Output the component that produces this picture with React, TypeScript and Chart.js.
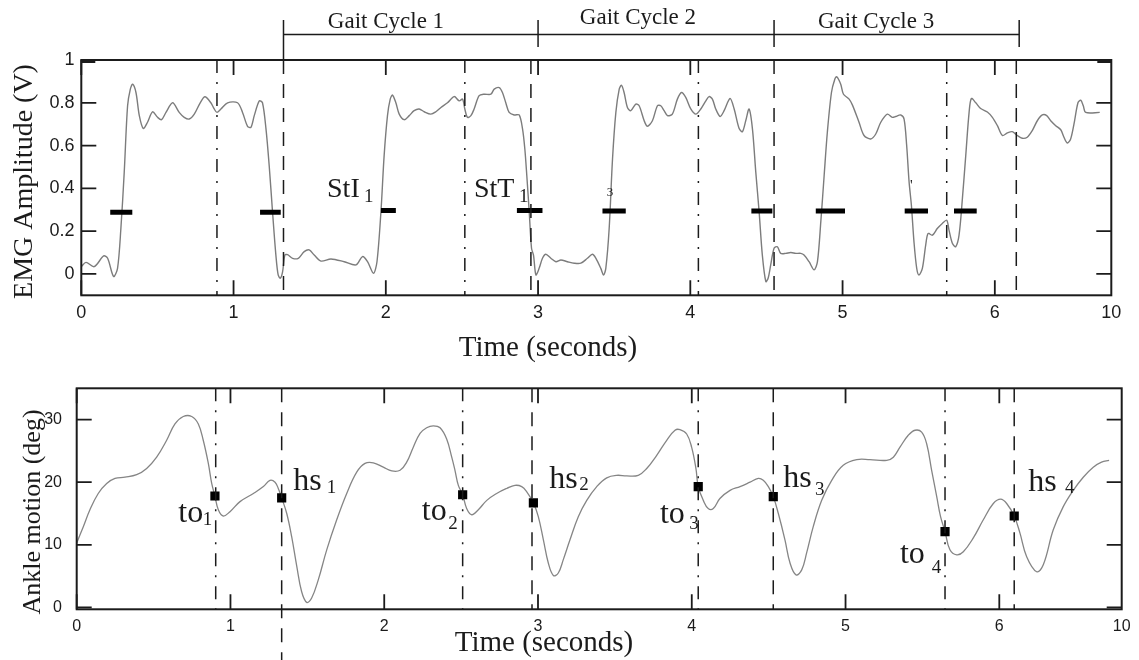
import React, { useEffect, useRef } from "react";
import { Chart, registerables } from "chart.js";

Chart.register(...registerables);

// ---------------- data: EMG (top panel) ----------------
const emgTime = [
  0.0, 0.031, 0.085, 0.147, 0.173, 0.212, 0.238, 0.26, 0.282, 0.304, 0.322, 0.337, 0.359, 0.381, 0.407, 0.435,
  0.468, 0.501, 0.527, 0.556, 0.6, 0.643, 0.676, 0.709, 0.742, 0.781, 0.812, 0.851, 0.873, 0.891, 0.917, 0.961,
  1.026, 1.059, 1.092, 1.114, 1.136, 1.169, 1.19, 1.213, 1.234, 1.256, 1.278, 1.293, 1.307, 1.322, 1.337, 1.355,
  1.388, 1.425, 1.464, 1.497, 1.53, 1.574, 1.64, 1.727, 1.804, 1.847, 1.88, 1.919, 1.942, 1.968, 1.989, 2.011,
  2.029, 2.044, 2.066, 2.088, 2.121, 2.154, 2.186, 2.219, 2.252, 2.296, 2.329, 2.362, 2.405, 2.449, 2.482, 2.504,
  2.519, 2.536, 2.559, 2.58, 2.613, 2.646, 2.69, 2.712, 2.745, 2.766, 2.788, 2.81, 2.843, 2.876, 2.898, 2.913,
  2.926, 2.942, 2.957, 2.97, 2.986, 3.007, 3.029, 3.051, 3.084, 3.117, 3.15, 3.193, 3.237, 3.281, 3.324, 3.357,
  3.38, 3.412, 3.43, 3.445, 3.467, 3.489, 3.511, 3.533, 3.548, 3.565, 3.587, 3.609, 3.642, 3.664, 3.697, 3.718,
  3.751, 3.784, 3.806, 3.828, 3.85, 3.882, 3.915, 3.942, 3.97, 4.003, 4.036, 4.069, 4.102, 4.123, 4.145, 4.167,
  4.196, 4.222, 4.261, 4.288, 4.32, 4.342, 4.364, 4.386, 4.408, 4.43, 4.452, 4.473, 4.496, 4.511, 4.528, 4.55,
  4.572, 4.594, 4.627, 4.66, 4.693, 4.725, 4.747, 4.78, 4.813, 4.835, 4.857, 4.879, 4.9, 4.927, 4.949, 4.962,
  4.988, 5.006, 5.043, 5.065, 5.108, 5.141, 5.185, 5.218, 5.251, 5.294, 5.327, 5.349, 5.382, 5.404, 5.421, 5.437,
  5.452, 5.469, 5.487, 5.502, 5.524, 5.546, 5.562, 5.59, 5.622, 5.655, 5.684, 5.699, 5.721, 5.743, 5.765, 5.787,
  5.809, 5.831, 5.846, 5.875, 5.907, 5.951, 5.984, 6.017, 6.05, 6.082, 6.115, 6.148, 6.18, 6.213, 6.246, 6.279,
  6.312, 6.341, 6.367, 6.4, 6.433, 6.454, 6.476, 6.498, 6.52, 6.546, 6.564, 6.581, 6.597, 6.689,
];
const emgAmplitude = [
  0.034, 0.054, 0.034, 0.084, 0.073, -0.012, 0.026, 0.212, 0.476, 0.786, 0.864, 0.887, 0.848, 0.74, 0.68, 0.709,
  0.758, 0.732, 0.721, 0.755, 0.8, 0.755, 0.732, 0.724, 0.747, 0.8, 0.828, 0.8, 0.771, 0.755, 0.771, 0.8,
  0.8, 0.755, 0.69, 0.685, 0.74, 0.809, 0.8, 0.678, 0.507, 0.29, 0.088, -0.005, -0.02, 0.01, 0.088, 0.09,
  0.073, 0.073, 0.104, 0.112, 0.088, 0.06, 0.07, 0.057, 0.042, 0.081, 0.057, 0.003, 0.057, 0.29, 0.553, 0.74,
  0.817, 0.836, 0.8, 0.747, 0.721, 0.74, 0.763, 0.771, 0.758, 0.747, 0.758, 0.778, 0.8, 0.829, 0.809, 0.817,
  0.771, 0.732, 0.74, 0.771, 0.833, 0.84, 0.84, 0.864, 0.871, 0.848, 0.8, 0.755, 0.743, 0.743, 0.678, 0.585,
  0.46, 0.29, 0.12, 0.088, -0.005, 0.026, 0.073, 0.092, 0.073, 0.057, 0.065, 0.057, 0.05, 0.05, 0.073, 0.092,
  0.073, 0.026, -0.005, 0.026, 0.212, 0.537, 0.755, 0.864, 0.882, 0.848, 0.778, 0.763, 0.794, 0.786, 0.716, 0.69,
  0.716, 0.786, 0.786, 0.763, 0.74, 0.747, 0.817, 0.848, 0.825, 0.771, 0.747, 0.771, 0.809, 0.829, 0.817, 0.771,
  0.736, 0.763, 0.82, 0.771, 0.681, 0.665, 0.716, 0.771, 0.678, 0.476, 0.29, 0.088, -0.036, -0.02, 0.042, 0.12,
  0.127, 0.096, 0.096, 0.1, 0.096, 0.096, 0.088, 0.057, 0.019, 0.057, 0.243, 0.46, 0.662, 0.848, 0.91, 0.922,
  0.887, 0.84, 0.817, 0.789, 0.709, 0.647, 0.631, 0.654, 0.709, 0.747, 0.732, 0.736, 0.743, 0.724, 0.6, 0.429,
  0.321, 0.15, 0.026, -0.005, 0.026, 0.135, 0.189, 0.181, 0.212, 0.236, 0.251, 0.205, 0.143, 0.127, 0.181, 0.352,
  0.553, 0.755, 0.82, 0.8, 0.773, 0.757, 0.732, 0.693, 0.647, 0.659, 0.665, 0.647, 0.634, 0.639, 0.67, 0.716,
  0.743, 0.74, 0.716, 0.693, 0.674, 0.639, 0.612, 0.631, 0.701, 0.8, 0.812, 0.786, 0.755, 0.755,
];
const thresholdStart = [0.19, 1.174, 1.968, 2.861, 3.423, 4.401, 4.824, 5.408, 5.732];
const thresholdEnd = [0.335, 1.31, 2.066, 3.029, 3.576, 4.539, 5.016, 5.561, 5.881];
const thresholdLevel = [0.288, 0.288, 0.297, 0.297, 0.294, 0.294, 0.294, 0.294, 0.294];
const emgEventTimes = [0.891, 1.328, 2.519, 2.953, 4.053, 4.55, 5.684, 6.141];
const gaitCycleBounds = [1.328, 3.0, 4.55, 6.16];
const gaitCycleLabels = ["Gait Cycle 1", "Gait Cycle 2", "Gait Cycle 3"];
const gaitLabelTimes = [2.001, 3.656, 5.22];
const emgXMax = 6.765;
const xTickValues = [0, 1, 2, 3, 4, 5, 6];
const xEndTickLabel = "10";
const emgYTickValues = [0, 0.2, 0.4, 0.6, 0.8, 1];
const emgYTickLabels = ["0", "0.2", "0.4", "0.6", "0.8", "1"];

// ---------------- data: ankle motion (bottom panel) ----------------
const ankleTime = [
  0.0, 0.043, 0.086, 0.14, 0.195, 0.249, 0.314, 0.39, 0.455, 0.52, 0.585, 0.639, 0.693, 0.748, 0.791, 0.823,
  0.856, 0.878, 0.899, 0.921, 0.953, 0.997, 1.062, 1.149, 1.214, 1.257, 1.29, 1.311, 1.333, 1.366, 1.398, 1.431,
  1.463, 1.496, 1.528, 1.571, 1.626, 1.691, 1.756, 1.821, 1.875, 1.929, 1.994, 2.049, 2.103, 2.146, 2.189, 2.233,
  2.276, 2.319, 2.363, 2.406, 2.439, 2.46, 2.482, 2.51, 2.536, 2.569, 2.612, 2.667, 2.731, 2.796, 2.85, 2.894,
  2.926, 2.97, 3.002, 3.035, 3.067, 3.1, 3.132, 3.164, 3.208, 3.262, 3.317, 3.382, 3.447, 3.512, 3.577, 3.652,
  3.707, 3.772, 3.837, 3.891, 3.923, 3.967, 3.999, 4.027, 4.042, 4.075, 4.107, 4.14, 4.183, 4.249, 4.314, 4.379,
  4.433, 4.465, 4.498, 4.53, 4.563, 4.606, 4.639, 4.678, 4.715, 4.747, 4.79, 4.845, 4.91, 4.985, 5.073, 5.159,
  5.268, 5.311, 5.354, 5.408, 5.452, 5.495, 5.528, 5.56, 5.593, 5.618, 5.647, 5.679, 5.723, 5.766, 5.831, 5.896,
  5.961, 6.009, 6.048, 6.097, 6.134, 6.178, 6.243, 6.286, 6.351, 6.416, 6.481, 6.546, 6.611, 6.665, 6.714,
];
const ankleAngle = [
  10.3, 12.9, 15.6, 18.2, 19.8, 20.6, 20.8, 21.2, 22.2, 24.0, 26.7, 29.3, 30.5, 30.5, 29.3, 26.7,
  23.0, 19.8, 17.8, 15.6, 14.6, 15.3, 16.9, 18.2, 19.3, 20.3, 20.0, 19.0, 17.5, 15.0, 11.3, 6.6,
  2.5, 0.8, 1.5, 4.4, 9.2, 14.0, 18.2, 21.6, 23.0, 23.1, 22.4, 21.8, 21.9, 23.2, 25.6, 27.8,
  28.7, 29.0, 28.7, 26.9, 24.0, 21.9, 19.5, 18.0, 15.8, 14.8, 15.6, 17.1, 18.2, 19.0, 19.5, 19.3,
  18.5, 16.7, 14.5, 10.8, 7.1, 5.1, 5.5, 7.6, 10.8, 14.5, 17.1, 19.3, 20.7, 21.1, 21.0, 21.1,
  22.2, 24.3, 26.7, 28.3, 28.4, 27.7, 25.6, 22.2, 19.3, 17.1, 15.8, 15.8, 17.4, 18.7, 19.3, 20.0,
  20.6, 20.3, 19.3, 17.7, 15.0, 10.8, 7.1, 5.2, 6.0, 8.7, 12.9, 17.1, 20.3, 22.7, 23.6, 23.6,
  23.5, 24.0, 25.6, 27.5, 28.3, 28.0, 26.1, 21.9, 17.7, 14.5, 12.1, 9.2, 8.4, 8.9, 11.1, 14.0,
  16.6, 17.3, 16.6, 14.6, 11.9, 8.1, 5.7, 6.8, 12.4, 16.1, 18.7, 20.8, 22.4, 23.2, 23.5,
];
const eventNames = ["to", "hs", "to", "hs", "to", "hs", "to", "hs"];
const eventIndex = ["1", "1", "2", "2", "3", "3", "4", "4"];
const eventTime = [0.899, 1.333, 2.51, 2.97, 4.042, 4.53, 5.647, 6.097];
const eventAngle = [17.8, 17.5, 18.0, 16.7, 19.3, 17.7, 12.1, 14.6];
const ankleEventTimes = [0.904, 1.333, 2.51, 2.961, 4.042, 4.53, 5.647, 6.097];
const ankleXMax = 6.796;
const ankleYTickValues = [0, 10, 20, 30];
const ankleYTickLabels = ["0", "10", "20", "30"];

// ---------------- layout & style ----------------
const W = 1139;
const H = 660;
const SERIF = '"Liberation Serif", "Times New Roman", serif';
const SANS = '"Liberation Sans", Arial, sans-serif';
const INK = "#1b1b1b";
const TOP_AREA = { left: 81.3, top: 60, right: 1111.3, bottom: 295.3 };
const BOT_AREA = { left: 76.7, top: 388.3, right: 1121.7, bottom: 609.3 };
const DASH_DOT = [13, 9, 2, 9];
const DASH = [14, 10];

// annotation anchors in data units
const emgNotes = [
  { main: "StI", sub: "1", x: 1.614, y: 0.36, sx: 1.857, sy: 0.338 },
  { main: "StT", sub: "1", x: 2.579, y: 0.36, sx: 2.875, sy: 0.338 },
];
const eventLabelPos = [
  { x: 0.661, y: 13.69, sx: 0.819, sy: 13.16 },
  { x: 1.409, y: 18.75, sx: 1.626, sy: 18.23 },
  { x: 2.244, y: 13.96, sx: 2.417, sy: 12.52 },
  { x: 3.073, y: 19.03, sx: 3.269, sy: 18.75 },
  { x: 3.793, y: 13.48, sx: 3.984, sy: 12.52 },
  { x: 4.595, y: 19.23, sx: 4.801, sy: 17.96 },
  { x: 5.354, y: 7.09, sx: 5.56, sy: 5.5 },
  { x: 6.188, y: 18.59, sx: 6.427, sy: 18.27 },
];

function drawFrame(ctx: any, area: any, xs: any, ys: any, xTicks: number[], yTicks: number[], yMaxThick: number | null) {
  ctx.save();
  ctx.strokeStyle = INK;
  ctx.lineWidth = 2;
  ctx.setLineDash([]);
  ctx.strokeRect(area.left, area.top, area.right - area.left, area.bottom - area.top);
  ctx.lineWidth = 1.8;
  ctx.beginPath();
  const tl = 15;
  for (const v of xTicks) {
    const px = xs.getPixelForValue(v);
    ctx.moveTo(px, area.bottom);
    ctx.lineTo(px, area.bottom - tl);
    ctx.moveTo(px, area.top);
    ctx.lineTo(px, area.top + tl);
  }
  for (const v of yTicks) {
    const py = ys.getPixelForValue(v);
    ctx.moveTo(area.left, py);
    ctx.lineTo(area.left + tl, py);
    ctx.moveTo(area.right, py);
    ctx.lineTo(area.right - tl, py);
  }
  ctx.stroke();
  if (yMaxThick !== null) {
    const py = ys.getPixelForValue(yMaxThick);
    ctx.lineWidth = 4;
    ctx.beginPath();
    ctx.moveTo(area.left, py + 1);
    ctx.lineTo(area.left + 14, py + 1);
    ctx.moveTo(area.right, py + 1);
    ctx.lineTo(area.right - 14, py + 1);
    ctx.stroke();
  }
  ctx.restore();
}

function vline(ctx: any, x: number, y0: number, y1: number, dash: number[], width = 1.5) {
  ctx.save();
  ctx.strokeStyle = INK;
  ctx.lineWidth = width;
  ctx.setLineDash(dash);
  ctx.beginPath();
  ctx.moveTo(x, y0);
  ctx.lineTo(x, y1);
  ctx.stroke();
  ctx.restore();
}

function text(ctx: any, s: string, x: number, y: number, font: string, align = "left", baseline = "alphabetic") {
  ctx.save();
  ctx.fillStyle = INK;
  ctx.font = font;
  ctx.textAlign = align;
  ctx.textBaseline = baseline;
  ctx.fillText(s, x, y);
  ctx.restore();
}

function rotText(ctx: any, s: string, x: number, y: number, font: string) {
  ctx.save();
  ctx.translate(x, y);
  ctx.rotate(-Math.PI / 2);
  ctx.fillStyle = INK;
  ctx.font = font;
  ctx.textAlign = "center";
  ctx.textBaseline = "middle";
  ctx.fillText(s, 0, 0);
  ctx.restore();
}

const topDecor = {
  id: "topDecor",
  afterDraw(chart: any) {
    const { ctx, chartArea: area } = chart;
    const xs = chart.scales.x;
    const ys = chart.scales.y;
    // event lines
    emgEventTimes.forEach((t, i) => {
      vline(ctx, xs.getPixelForValue(t), area.top, area.bottom, i % 2 === 0 ? DASH_DOT : DASH);
    });
    drawFrame(ctx, area, xs, ys, xTickValues, emgYTickValues, 1);
    // gait cycle bracket
    const bx = gaitCycleBounds.map((v) => xs.getPixelForValue(v));
    const by = area.top - 25.5;
    ctx.save();
    ctx.strokeStyle = INK;
    ctx.lineWidth = 1.5;
    ctx.beginPath();
    ctx.moveTo(bx[0], by);
    ctx.lineTo(bx[bx.length - 1], by);
    bx.forEach((px, i) => {
      ctx.moveTo(px, area.top - 40);
      ctx.lineTo(px, i === 0 ? area.top : area.top - 13);
    });
    ctx.stroke();
    ctx.restore();
    const gaitBase = [-32, -36, -32.5];
    gaitCycleLabels.forEach((s, i) => {
      text(ctx, s, xs.getPixelForValue(gaitLabelTimes[i]), area.top + gaitBase[i], `23px ${SERIF}`, "center");
    });
    // annotations
    emgNotes.forEach((n) => {
      text(ctx, n.main, xs.getPixelForValue(n.x), ys.getPixelForValue(n.y), `28px ${SERIF}`);
      text(ctx, n.sub, xs.getPixelForValue(n.sx), ys.getPixelForValue(n.sy), `19px ${SERIF}`);
    });
    text(ctx, "3", xs.getPixelForValue(3.472), ys.getPixelForValue(0.364), `13px ${SERIF}`, "center");
    text(ctx, "'", xs.getPixelForValue(5.452), ys.getPixelForValue(0.39), `15px ${SERIF}`, "center");
    // axis titles
    rotText(ctx, "EMG Amplitude (V)", 25, 181.5, `28px ${SERIF}`);
    text(ctx, "Time (seconds)", 548, 356, `29px ${SERIF}`, "center");
  },
};

const bottomDecor = {
  id: "bottomDecor",
  afterDraw(chart: any) {
    const { ctx, chartArea: area } = chart;
    const xs = chart.scales.x;
    const ys = chart.scales.y;
    ankleEventTimes.forEach((t, i) => {
      vline(ctx, xs.getPixelForValue(t), area.top, i === 1 ? H : area.bottom, i % 2 === 0 ? DASH_DOT : DASH);
    });
    drawFrame(ctx, area, xs, ys, xTickValues, ankleYTickValues, null);
    eventNames.forEach((name, i) => {
      const p = eventLabelPos[i];
      text(ctx, name, xs.getPixelForValue(p.x), ys.getPixelForValue(p.y), `32px ${SERIF}`);
      text(ctx, eventIndex[i], xs.getPixelForValue(p.sx), ys.getPixelForValue(p.sy), `19px ${SERIF}`);
    });
    rotText(ctx, "Ankle motion (deg)", 33, 512, `26px ${SERIF}`);
    text(ctx, "Time (seconds)", 544, 651, `29px ${SERIF}`, "center");
  },
};

function makeXScale(max: number, fitHeight: number, size: number, padding: number) {
  return {
    type: "linear",
    min: 0,
    max,
    grid: { display: false, drawTicks: false, tickLength: 0 },
    border: { display: false },
    afterBuildTicks: (s: any) => {
      s.ticks = [...xTickValues, max].map((v) => ({ value: v }));
    },
    afterFit: (s: any) => {
      s.height = fitHeight;
    },
    ticks: {
      autoSkip: false,
      maxRotation: 0,
      minRotation: 0,
      padding,
      color: INK,
      font: { family: SANS, size },
      callback: (v: number) => (v === max ? xEndTickLabel : String(v)),
    },
  };
}

function makeYScale(min: number, max: number, values: number[], labels: string[], fitWidth: number, size: number, padding: number) {
  return {
    type: "linear",
    min,
    max,
    grid: { display: false, drawTicks: false, tickLength: 0 },
    border: { display: false },
    afterBuildTicks: (s: any) => {
      s.ticks = values.map((v) => ({ value: v }));
    },
    afterFit: (s: any) => {
      s.width = fitWidth;
    },
    ticks: {
      autoSkip: false,
      padding,
      color: INK,
      font: { family: SANS, size },
      callback: (_v: number, i: number) => labels[i],
    },
  };
}

export default function App() {
  const topRef = useRef<HTMLCanvasElement | null>(null);
  const botRef = useRef<HTMLCanvasElement | null>(null);

  useEffect(() => {
    const emgPoints = emgTime.map((t, i) => ({ x: t, y: emgAmplitude[i] }));
    const barPoints: any[] = [];
    thresholdStart.forEach((s, i) => {
      barPoints.push({ x: s, y: thresholdLevel[i] });
      barPoints.push({ x: thresholdEnd[i], y: thresholdLevel[i] });
      barPoints.push({ x: thresholdEnd[i], y: null });
    });
    const topChart = new Chart(topRef.current as HTMLCanvasElement, {
      type: "line",
      data: {
        datasets: [
          { data: emgPoints, borderColor: "#7c7c7c", borderWidth: 1.4, pointRadius: 0, tension: 0.3, order: 2 },
          {
            data: barPoints,
            borderColor: "#000",
            borderWidth: 5,
            pointRadius: 0,
            tension: 0,
            spanGaps: false,
            borderCapStyle: "butt",
            order: 1,
          },
        ],
      },
      options: {
        animation: false,
        responsive: false,
        events: [],
        layout: { padding: { top: TOP_AREA.top, right: W - TOP_AREA.right, left: 0, bottom: 0 } },
        plugins: { legend: { display: false }, tooltip: { enabled: false } },
        scales: {
          x: makeXScale(emgXMax, H - TOP_AREA.bottom, 18, 7.4),
          y: makeYScale(-0.1, 1, emgYTickValues, emgYTickLabels, TOP_AREA.left, 18, 6.8),
        },
      } as any,
      plugins: [topDecor],
    });

    const anklePoints = ankleTime.map((t, i) => ({ x: t, y: ankleAngle[i] }));
    const eventPoints = eventTime.map((t, i) => ({ x: t, y: eventAngle[i] }));
    const botChart = new Chart(botRef.current as HTMLCanvasElement, {
      type: "line",
      data: {
        datasets: [
          { data: anklePoints, borderColor: "#858585", borderWidth: 1.3, pointRadius: 0, tension: 0.4, order: 2 },
          {
            data: eventPoints,
            showLine: false,
            pointStyle: "rect",
            pointRadius: 6.5,
            pointBackgroundColor: "#000",
            pointBorderColor: "#000",
            pointBorderWidth: 0,
            order: 1,
          },
        ],
      },
      options: {
        animation: false,
        responsive: false,
        events: [],
        layout: { padding: { top: BOT_AREA.top, right: W - BOT_AREA.right, left: 0, bottom: 0 } },
        plugins: { legend: { display: false }, tooltip: { enabled: false } },
        scales: {
          x: makeXScale(ankleXMax, H - BOT_AREA.bottom, 16, 7.6),
          y: makeYScale(-0.3, 35, ankleYTickValues, ankleYTickLabels, BOT_AREA.left, 16, 14.7),
        },
      } as any,
      plugins: [bottomDecor],
    });

    return () => {
      topChart.destroy();
      botChart.destroy();
    };
  }, []);

  const canvasStyle: React.CSSProperties = { position: "absolute", left: 0, top: 0, width: W, height: H };
  return (
    <div style={{ position: "absolute", left: 0, top: 0, width: W, height: H, background: "#fff", overflow: "hidden" }}>
      <canvas ref={topRef} width={W} height={H} style={canvasStyle} />
      <canvas ref={botRef} width={W} height={H} style={canvasStyle} />
    </div>
  );
}
